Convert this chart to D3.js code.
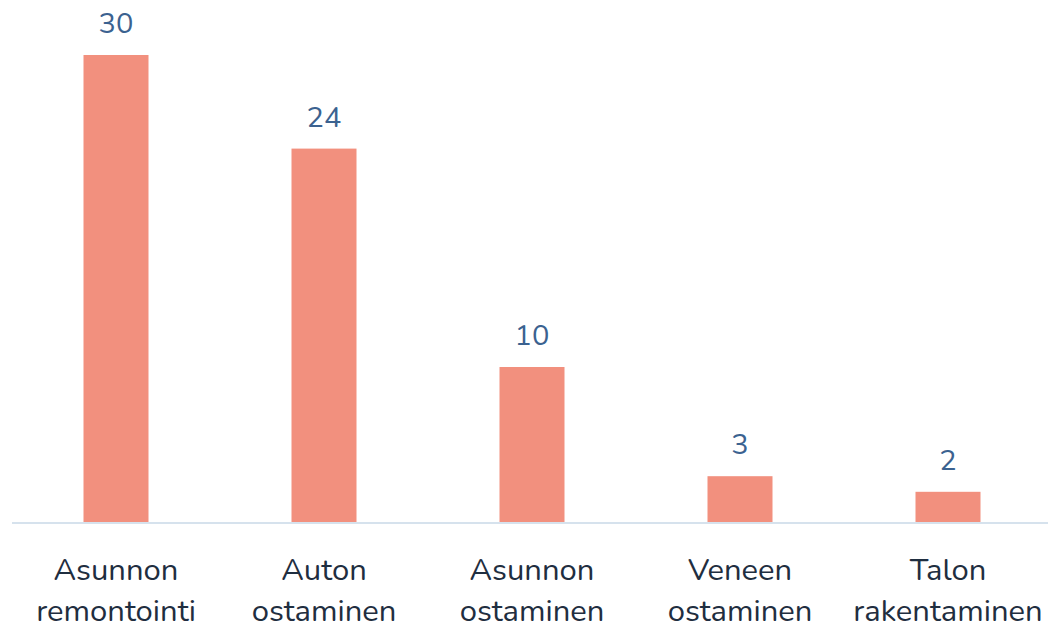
<!DOCTYPE html>
<html><head><meta charset="utf-8">
<script src="https://cdn.jsdelivr.net/npm/d3@7"></script>
<style>body{margin:0;background:#fff}svg{display:block}</style>
</head><body>
<script>
const categories = [["Asunnon","remontointi"],["Auton","ostaminen"],["Asunnon","ostaminen"],["Veneen","ostaminen"],["Talon","rakentaminen"]];
const values = [30, 24, 10, 3, 2];

const W = 1048, H = 625;
const svg = d3.select("body").append("svg").attr("width", W).attr("height", H);
const font = "Nunito, Lato, 'Open Sans', sans-serif";

const x = d3.scaleBand().domain(d3.range(values.length)).range([12, 1052]).paddingInner(0.6875).paddingOuter(0.34375);
const y = d3.scaleLinear().domain([0, 30]).range([523, 55]);

svg.append("line").attr("x1", 12).attr("x2", 1048).attr("y1", 523).attr("y2", 523)
  .attr("stroke", "#d6e2ed").attr("stroke-width", 2);

svg.selectAll("rect.bar").data(values).join("rect").attr("class", "bar")
  .attr("x", (d, i) => x(i)).attr("width", x.bandwidth())
  .attr("y", d => y(d)).attr("height", d => y(0) - y(d) - 1)
  .attr("fill", "#f2907e");

svg.selectAll("text.val").data(values).join("text").attr("class", "val")
  .attr("x", (d, i) => x(i) + x.bandwidth() / 2).attr("y", d => y(d) - 22)
  .attr("text-anchor", "middle").attr("font-family", font).attr("font-size", 29)
  .attr("fill", "#3b6290").text(d => d);

const g = svg.selectAll("text.cat").data(categories).join("text").attr("class", "cat")
  .attr("text-anchor", "middle").attr("font-family", font).attr("font-size", 31)
  .attr("fill", "#1f2e40");
g.selectAll("tspan").data((d, i) => d.map(s => [s, i])).join("tspan")
  .attr("x", d => x(d[1]) + x.bandwidth() / 2)
  .attr("y", (d, j) => 580 + j * 41).text(d => d[0]);
</script>
</body></html>
